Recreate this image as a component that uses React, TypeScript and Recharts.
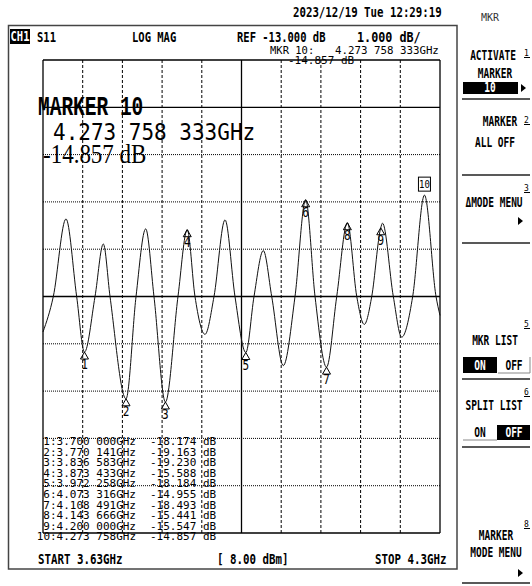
import React from "react";
import { LineChart, Line, XAxis, YAxis, ReferenceLine, ReferenceDot } from "recharts";

// trace: frequency (GHz) and S11 (dB)
const traceFreq = [
  3.63, 3.6474, 3.6688, 3.6868, 3.7, 3.7178, 3.7318, 3.7431, 3.7701, 3.787, 3.8033,
  3.8173, 3.8366, 3.8578, 3.8734, 3.8865, 3.9034, 3.9186, 3.9372, 3.954, 3.9723,
  3.9861, 4.0018, 4.016, 4.0355, 4.0553, 4.0733, 4.0891, 4.1085, 4.1257, 4.1437,
  4.1595, 4.1722, 4.1848, 4.2, 4.203, 4.2212, 4.2353, 4.2539, 4.2738, 4.2933, 4.3,
];
const traceDb = [
  -17.75, -17.0, -15.36, -17.0, -18.174, -17.0, -15.89, -17.0, -19.163, -17.0, -15.57,
  -17.0, -19.23, -17.0, -15.588, -17.0, -17.8, -17.0, -15.38, -17.0, -18.184,
  -17.0, -16.03, -17.0, -18.46, -17.0, -14.955, -17.0, -18.493, -17.0, -15.441,
  -17.0, -17.59, -17.0, -15.547, -15.45, -17.0, -17.86, -17.0, -14.857, -17.0, -17.4,
];

const markerFreq = [3.7, 3.770141, 3.836583, 3.873433, 3.972258, 4.073316, 4.108491, 4.143666, 4.2, 4.273758333];
const markerDb = [-18.174, -19.163, -19.23, -15.588, -18.184, -14.955, -18.493, -15.441, -15.547, -14.857];

// graticule: 10 x 10 divisions, ref -13 dB, 1 dB/div
const xTicks = [3.63, 3.697, 3.764, 3.831, 3.898, 3.965, 4.032, 4.099, 4.166, 4.233, 4.3];
const yTicks = [-22, -21, -20, -19, -18, -17, -16, -15, -14, -13, -12];
const refLevel = -13;

const data = traceFreq.map((f, i) => ({ f, db: traceDb[i] }));

const MONO = "'DejaVu Sans Mono', monospace";
const CMONO = "'Liberation Mono', monospace";
const SERIF = "'Liberation Serif', serif";

function Txt({ x, y, s = 11, f = MONO, b = false, sx = 1, sy = 1, a = "start", c = "#000", children }: any) {
  return (
    <text
      transform={`translate(${x} ${y}) scale(${sx} ${sy})`}
      fontSize={s}
      fontFamily={f}
      fontWeight={b ? 700 : 400}
      textAnchor={a}
      fill={c}
    >
      {children}
    </text>
  );
}

// "3.700000" -> "3.700 000", "4.273758333" -> "4.273 758 333"
const fmtF = (f: number, dec = 6) => {
  const s = f.toFixed(dec);
  const parts = [s.slice(0, 5)];
  for (let k = 5; k < s.length; k += 3) parts.push(s.slice(k, k + 3));
  return parts.join(" ");
};

const markerShape = (i: number) => (props: any) => {
  const { cx, cy } = props;
  if (i === 9) {
    return (
      <g>
        <rect x={cx - 6} y={cy - 18} width={12} height={14} fill="#fff" stroke="#000" />
        <Txt x={cx} y={cy - 7} s={9} a="middle" sy={1.2}>10</Txt>
      </g>
    );
  }
  return (
    <g>
      <polygon points={`${cx},${cy} ${cx - 4},${cy + 7} ${cx + 4},${cy + 7}`} fill="none" stroke="#000" />
      <Txt x={cx} y={cy + 17} s={11} a="middle" sy={1.2}>{String(i + 1)}</Txt>
    </g>
  );
};

const arrow = (x: number, y: number) => <polygon points={`${x},${y - 4} ${x + 5},${y} ${x},${y + 4}`} fill="#000" />;

function Menu() {
  const seps = [99, 175, 243, 379, 447, 583];
  const M = { s: 9.5, b: true, sy: 1.45, a: "middle" };
  const sup = (x: number, y: number, t: string) => (
    <g>
      <Txt x={x} y={y} s={8}>{t}</Txt>
      <line x1={x} x2={x + 6} y1={y + 1.5} y2={y + 1.5} stroke="#000" />
    </g>
  );
  return (
    <g>
      <Txt x={481} y={21} s={10} c="#333">MKR</Txt>
      <Txt x={493} y={60} {...M}>ACTIVATE</Txt>
      {sup(524, 56, "1")}
      <Txt x={495} y={78} {...M}>MARKER</Txt>
      <rect x={463} y={82} width={55} height={12} fill="#000" />
      <Txt x={490} y={92} {...M} c="#fff">10</Txt>
      {arrow(521, 88)}
      <Txt x={500} y={126} {...M}>MARKER</Txt>
      {sup(524, 123, "2")}
      <Txt x={495} y={147} {...M}>ALL OFF</Txt>
      <Txt x={494} y={207} {...M}>ΔMODE MENU</Txt>
      {sup(524, 191, "3")}
      {arrow(518, 221)}
      <Txt x={495} y={345} {...M}>MKR LIST</Txt>
      {sup(524, 327, "5")}
      <rect x={463} y={357} width={34} height={16} fill="#000" />
      <Txt x={480} y={370} {...M} c="#fff">ON</Txt>
      <Txt x={514} y={370} {...M}>OFF</Txt>
      <polyline points="498,373 530,373 530,357" fill="none" stroke="#888" />
      <Txt x={494} y={410} {...M}>SPLIT LIST</Txt>
      {sup(524, 395, "6")}
      <rect x={497} y={425} width={33} height={15} fill="#000" />
      <Txt x={480} y={437} {...M}>ON</Txt>
      <Txt x={514} y={437} {...M} c="#fff">OFF</Txt>
      <line x1={463} x2={497} y1={440} y2={440} stroke="#888" />
      <Txt x={496} y={540} {...M}>MARKER</Txt>
      {sup(524, 527, "8")}
      <Txt x={496} y={557} {...M}>MODE MENU</Txt>
      {arrow(518, 573)}
      {seps.map((y) => (
        <line key={y} x1={462} x2={530} y1={y} y2={y} stroke="#222" strokeWidth={1.5} />
      ))}
    </g>
  );
}

function Overlay() {
  const H = { s: 10.5, b: true, sy: 1.35 };
  const act = 9;
  return (
    <svg width={532} height={586} style={{ position: "absolute", left: 0, top: 0, pointerEvents: "none" }}>
      <Txt x={293} y={17} s={10.75} b sy={1.3}>2023/12/19 Tue 12:29:19</Txt>
      <rect x={8.5} y={25.5} width={448.5} height={543.5} fill="none" stroke="#444" strokeWidth={1.5} />
      <rect x={10} y={29} width={20} height={15} fill="#000" />
      <Txt x={20} y={41} {...H} a="middle" c="#fff">CH1</Txt>
      <Txt x={37} y={42} {...H}>S11</Txt>
      <Txt x={132} y={42} {...H}>LOG MAG</Txt>
      <Txt x={237} y={42} {...H}>REF -13.000 dB</Txt>
      <Txt x={357} y={42} {...H} sx={1.12}>1.000 dB/</Txt>
      <Txt x={270} y={54} s={10} sx={1.05}>MKR 10:</Txt>
      <Txt x={335} y={54} s={10} sx={1.08}>{`${fmtF(markerFreq[act], 9)}GHz`}</Txt>
      <Txt x={288} y={64} s={10} sx={1.1}>{`${markerDb[act].toFixed(3)} dB`}</Txt>

      <Txt x={38} y={115} s={19.5} f={CMONO} b sy={1.4}>MARKER 10</Txt>
      <Txt x={53} y={140} s={21} sy={1.12}>{`${fmtF(markerFreq[act], 9)}GHz`}</Txt>
      <Txt x={43} y={163} s={23} f={SERIF} sy={1.15}>{`${markerDb[act].toFixed(3)} dB`}</Txt>

      {markerFreq.map((f, i) => (
        <g key={i}>
          <Txt x={136} y={445 + 10.6 * i} s={10} sx={1.1} a="end">{`${i + 1}:${fmtF(f)}GHz`}</Txt>
          <Txt x={150} y={445 + 10.6 * i} s={10} sx={1.1}>{`${markerDb[i].toFixed(3)} dB`}</Txt>
        </g>
      ))}

      <Txt x={38} y={564} s={10.8} b sy={1.3}>START 3.63GHz</Txt>
      <Txt x={217} y={564} s={10.8} b sy={1.3}>[ 8.00 dBm]</Txt>
      <Txt x={375} y={564} s={10.8} b sy={1.3}>STOP 4.3GHz</Txt>
      <Menu />
    </svg>
  );
}

export default function App() {
  const center = xTicks[5];
  return (
    <div style={{ position: "absolute", left: 0, top: 0, width: 532, height: 586, background: "#fff" }}>
      <LineChart width={532} height={586} data={data} margin={{ top: 60, right: 92, bottom: 53, left: 43 }}>
        <XAxis dataKey="f" type="number" domain={[3.63, 4.3]} ticks={xTicks} hide />
        <YAxis type="number" domain={[-22, -12]} ticks={yTicks} hide />
        {xTicks.map((t, i) => (
          <ReferenceLine
            key={"x" + i}
            x={t}
            stroke="#000"
            strokeWidth={i === 0 || i === 10 || t === center ? 1.3 : 1}
            strokeDasharray={i === 0 || i === 10 || t === center ? undefined : "3 2"}
          />
        ))}
        {yTicks.map((t, i) => (
          <ReferenceLine
            key={"y" + i}
            y={t}
            stroke="#000"
            strokeWidth={i === 0 || i === 10 || t === -17 || t === refLevel ? 1.3 : 1}
            strokeDasharray={i === 0 || i === 10 || t === -17 || t === refLevel ? undefined : "1 1"}
          />
        ))}
        <Line
          dataKey="db"
          type="monotone"
          dot={false}
          stroke="#111"
          strokeWidth={1}
          isAnimationActive={false}
        />
        {markerFreq.map((f, i) => (
          <ReferenceDot key={"m" + i} x={f} y={markerDb[i]} r={3} ifOverflow="visible" shape={markerShape(i)} />
        ))}
      </LineChart>
      <Overlay />
    </div>
  );
}
